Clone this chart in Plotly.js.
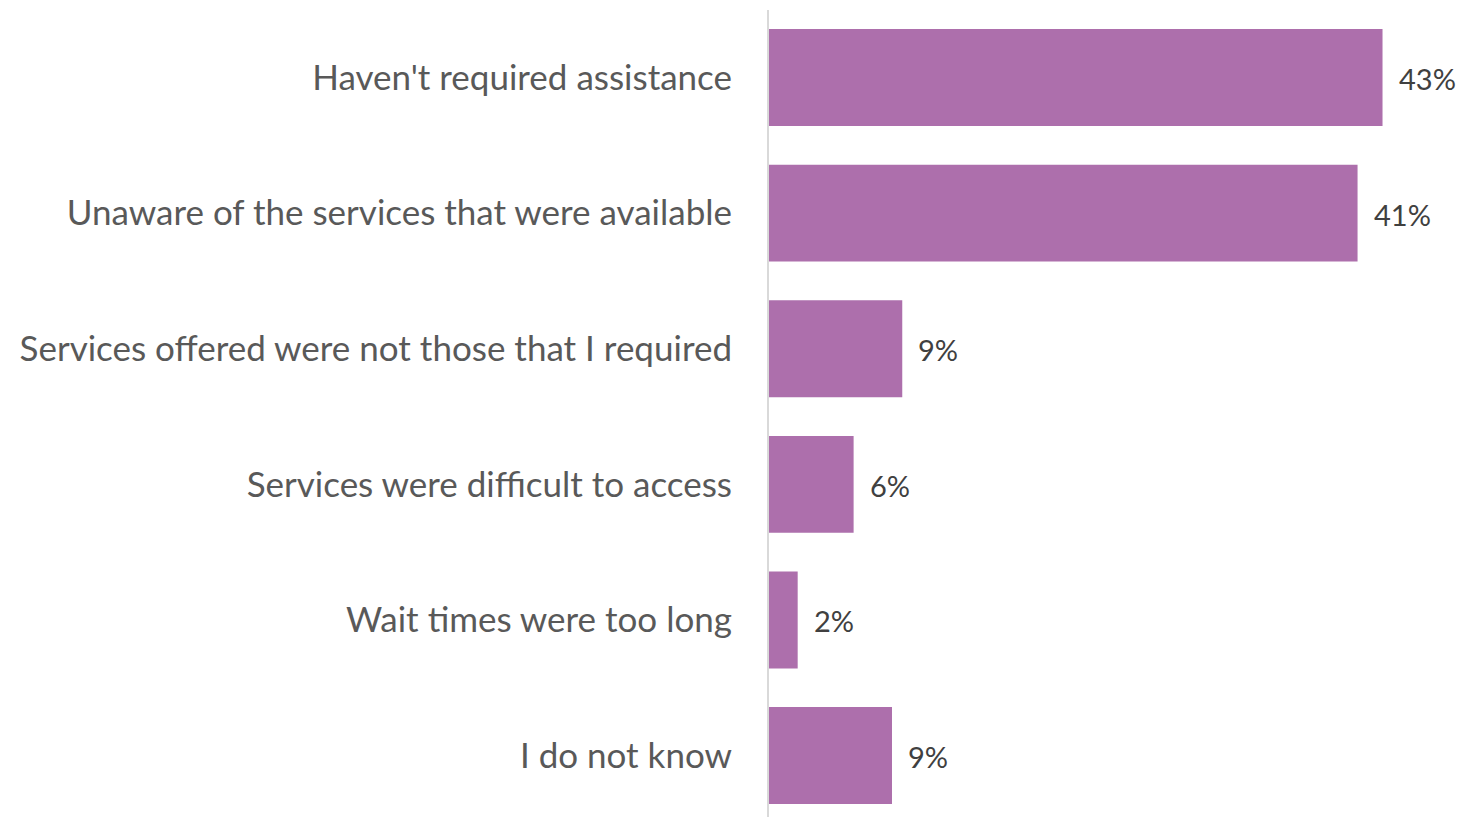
<!DOCTYPE html>
<html>
<head>
<meta charset="utf-8">
<script src="https://cdn.plot.ly/plotly-3.0.1.min.js"></script>
<style>html,body{margin:0;padding:0;background:#fff;}#chart{width:1460px;height:817px;}</style>
</head>
<body>
<div id="chart"></div>
<script>
const categories = [
  "Haven't required assistance",
  "Unaware of the services that were available",
  "Services offered were not those that I required",
  "Services were difficult to access",
  "Wait times were too long",
  "I do not know"
];
const values = [43.0, 41.25, 9.34, 5.93, 2.01, 8.62];
const valueLabels = ["43%", "41%", "9%", "6%", "2%", "9%"];

const trace = {
  type: 'bar',
  orientation: 'h',
  x: values,
  y: categories,
  marker: {color: '#AD6FAC'},
  hoverinfo: 'none'
};

const annotations = categories.map((c, i) => ({
  x: values[i], y: c, xref: 'x', yref: 'y',
  text: valueLabels[i], showarrow: false,
  xanchor: 'left', yanchor: 'middle', xshift: 14, yshift: -1,
  font: {family: 'Lato, sans-serif', size: 29, color: '#404040'}
}));

const layout = {
  width: 1460, height: 817,
  margin: {l: 769, r: 0, t: 10, b: 0, pad: 0},
  paper_bgcolor: '#ffffff', plot_bgcolor: '#ffffff',
  showlegend: false,
  bargap: 0.285,
  xaxis: {range: [0, 48.43], showgrid: false, zeroline: false, showticklabels: false, showline: false, fixedrange: true},
  yaxis: {
    type: 'category',
    range: [5.453, -0.498],
    showgrid: false, zeroline: false,
    showline: true, linecolor: '#d9d9d9', linewidth: 2,
    ticks: 'outside', ticklen: 28, tickcolor: 'rgba(0,0,0,0)',
    tickfont: {family: 'Lato, sans-serif', size: 35, color: '#595959'}
  },
  annotations: annotations
};

Plotly.newPlot('chart', [trace], layout, {displayModeBar: false, staticPlot: true});
</script>
</body>
</html>
